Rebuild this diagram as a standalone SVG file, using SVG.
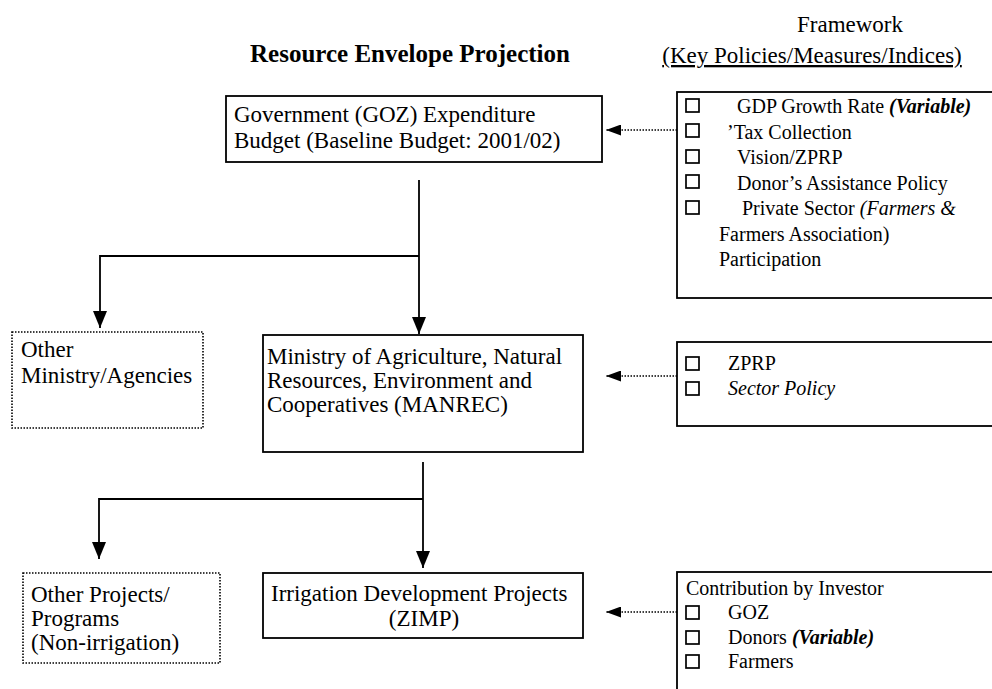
<svg xmlns="http://www.w3.org/2000/svg" width="992" height="689" viewBox="0 0 992 689">
<defs>
<style>
text{font-family:"Liberation Serif","Times New Roman",serif;fill:#000}
.h{font-size:23px}
.t{font-size:25px;font-weight:bold}
.n{font-size:23px}
.l{font-size:20px}
.bi{font-weight:bold;font-style:italic}
.it{font-style:italic}
.box{fill:#fff;stroke:#000;stroke-width:1.8}
.dbox{fill:#fff;stroke:#000;stroke-width:1.6;stroke-dasharray:1.5 1.5}
.cb{fill:none;stroke:#000;stroke-width:1.7}
.ln{fill:none;stroke:#000;stroke-width:1.8}
.dl{fill:none;stroke:#000;stroke-width:1.4;stroke-dasharray:1.5 1.5}
</style>
<marker id="ah" viewBox="0 0 17 14" refX="17" refY="7" markerWidth="17" markerHeight="14" markerUnits="userSpaceOnUse" orient="auto">
<path d="M0,0 L17,7 L0,14 Z" fill="#000"/>
</marker>
<marker id="ahs" viewBox="0 0 15 11" refX="15" refY="5.5" markerWidth="15" markerHeight="11" markerUnits="userSpaceOnUse" orient="auto">
<path d="M0,0 L15,5.5 L0,11 Z" fill="#000"/>
</marker>
</defs>
<rect width="992" height="689" fill="#fff"/>

<g id="headings">
<text class="t" x="410" y="62" text-anchor="middle">Resource Envelope Projection</text>
<text class="h" x="850" y="32" text-anchor="middle">Framework</text>
<text class="h" x="812" y="63" text-anchor="middle" text-decoration="underline">(Key Policies/Measures/Indices)</text>
</g>

<g id="connectors">
<path class="ln" d="M419,180 V334" marker-end="url(#ah)"/>
<path class="ln" d="M419,256 H100 V328" marker-end="url(#ah)"/>
<path class="ln" d="M423,462 V568" marker-end="url(#ah)"/>
<path class="ln" d="M423,499 H99 V559" marker-end="url(#ah)"/>
<path class="dl" d="M677,130 H606" marker-end="url(#ahs)"/>
<path class="dl" d="M677,376 H606" marker-end="url(#ahs)"/>
<path class="dl" d="M686,612 H606" marker-end="url(#ahs)"/>
</g>

<g id="gov">
<rect class="box" x="226" y="96" width="376" height="66"/>
<text class="n" x="234" y="122">Government (GOZ) Expenditure</text>
<text class="n" x="234" y="148">Budget (Baseline Budget: 2001/02)</text>
</g>

<g id="other-ministry">
<rect class="dbox" x="12" y="332" width="191" height="96"/>
<text class="n" x="21" y="357">Other</text>
<text class="n" x="21" y="383">Ministry/Agencies</text>
</g>

<g id="manrec">
<rect class="box" x="263" y="335" width="320" height="117"/>
<text class="n" x="267" y="364">Ministry of Agriculture, Natural</text>
<text class="n" x="267" y="388">Resources, Environment and</text>
<text class="n" x="267" y="412">Cooperatives (MANREC)</text>
</g>

<g id="other-projects">
<rect class="dbox" x="23" y="573" width="197" height="90"/>
<text class="n" x="31" y="602">Other Projects/</text>
<text class="n" x="31" y="626">Programs</text>
<text class="n" x="31" y="650">(Non-irrigation)</text>
</g>

<g id="irrigation">
<rect class="box" x="263" y="573" width="320" height="65"/>
<text class="n" x="271" y="601">Irrigation Development Projects</text>
<text class="n" x="424" y="626" text-anchor="middle">(ZIMP)</text>
</g>

<g id="framework-1">
<rect class="box" x="677" y="92" width="330" height="206"/>
<rect class="cb" x="686" y="99" width="13" height="13"/>
<rect class="cb" x="686" y="124" width="13" height="13"/>
<rect class="cb" x="686" y="150" width="13" height="13"/>
<rect class="cb" x="686" y="175" width="13" height="13"/>
<rect class="cb" x="686" y="201" width="13" height="13"/>
<text class="l" x="737" y="113">GDP Growth Rate <tspan class="bi">(Variable)</tspan></text>
<text class="l" x="727" y="138.5">’Tax Collection</text>
<text class="l" x="737" y="164">Vision/ZPRP</text>
<text class="l" x="737" y="189.5">Donor’s Assistance Policy</text>
<text class="l" x="742" y="215">Private Sector <tspan class="it">(Farmers &amp;</tspan></text>
<text class="l" x="719" y="240.5">Farmers Association)</text>
<text class="l" x="719" y="266">Participation</text>
</g>

<g id="framework-2">
<rect class="box" x="677" y="342" width="330" height="84"/>
<rect class="cb" x="686" y="357" width="13" height="13"/>
<rect class="cb" x="686" y="382" width="13" height="13"/>
<text class="l" x="728" y="370">ZPRP</text>
<text class="l it" x="728" y="395">Sector Policy</text>
</g>

<g id="framework-3">
<rect class="box" x="677" y="572" width="330" height="140"/>
<text class="l" x="686" y="595">Contribution by Investor</text>
<rect class="cb" x="686" y="606" width="13" height="13"/>
<rect class="cb" x="686" y="631" width="13" height="13"/>
<rect class="cb" x="686" y="655" width="13" height="13"/>
<text class="l" x="728" y="619">GOZ</text>
<text class="l" x="728" y="644">Donors <tspan class="bi">(Variable)</tspan></text>
<text class="l" x="728" y="668">Farmers</text>
</g>
</svg>
